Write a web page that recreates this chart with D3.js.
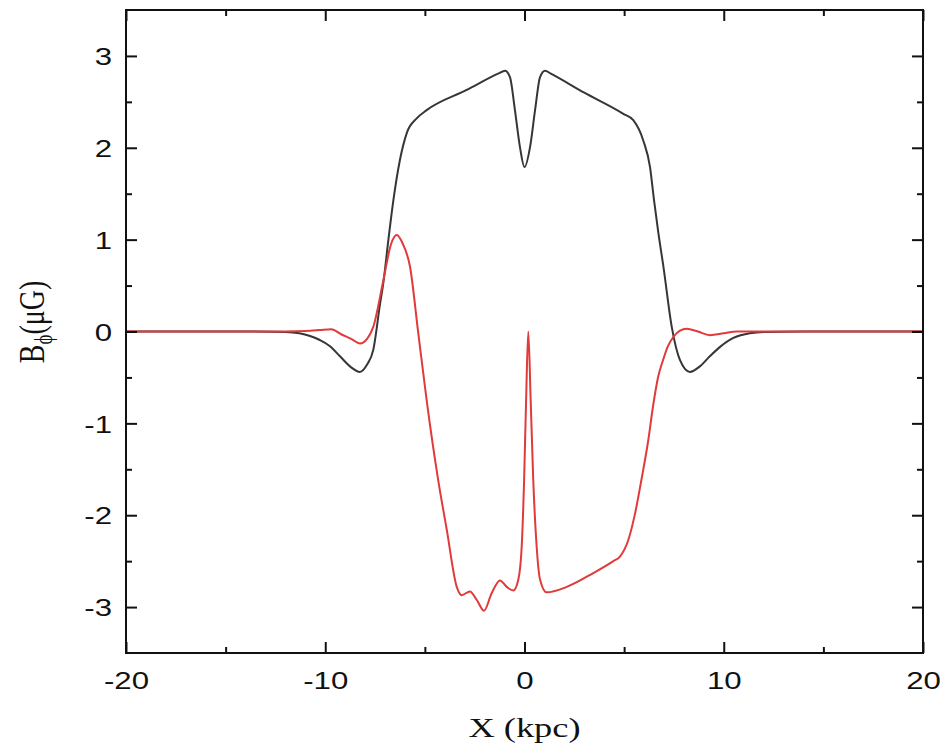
<!DOCTYPE html>
<html>
<head>
<meta charset="utf-8">
<script src="https://d3js.org/d3.v7.min.js"></script>
<style>
html,body{margin:0;padding:0;background:#fff;}
svg{display:block;}
</style>
</head>
<body>
<svg id="chart" width="940" height="747"></svg>
<script>
// ---- data ----
const xTicks = [-20, -10, 0, 10, 20];
const xMinor = [-15, -5, 5, 15];
const yTicks = [-3, -2, -1, 0, 1, 2, 3];
const yMinor = [-2.5, -1.5, -0.5, 0.5, 1.5, 2.5];

const blackX = [-20,-14,-12,-11.3,-10.3,-9.76,-9.26,-8.7,-8.26,-7.9,
  -7.59,-7.25,-7.09,-6.83,-6.58,-6.25,-5.91,-5.41,-4.91,-2.9,
  -1.3,-0.98,-0.73,-0.48,-0.23,0,0.28,0.53,0.78,1.03,
  1.3,3,4.96,5.46,5.96,6.3,6.5,6.72,6.97,7.39,
  7.8,8.3,8.8,9.3,9.8,10.48,11.3,12,14,20];
const blackY = [0,0,-0.005,-0.02,-0.09,-0.16,-0.27,-0.39,-0.44,-0.36,
  -0.2,0.3,0.52,1.0,1.43,1.87,2.16,2.32,2.41,2.63,
  2.81,2.84,2.77,2.41,2.01,1.79,2.01,2.41,2.77,2.84,
  2.81,2.60,2.37,2.30,2.08,1.79,1.43,1.07,0.71,0.05,
  -0.31,-0.44,-0.38,-0.27,-0.17,-0.07,-0.02,-0.005,0,0];

const redX = [-20,-12,-11,-10.3,-9.7,-9.2,-8.7,-8.26,-7.9,-7.59,
  -7.09,-6.7,-6.41,-6.1,-5.75,-5.33,-4.91,-4.33,-3.9,-3.4,
  -3.15,-2.74,-2.4,-2.03,-1.65,-1.23,-0.89,-0.56,-0.31,-0.14,
  -0.02,0.08,0.19,0.31,0.44,0.61,0.78,1.11,2.12,3.45,
  4.46,4.79,5.21,5.55,5.88,6.2,6.46,6.7,6.97,7.2,
  7.47,7.8,8.14,8.7,9.31,10.0,10.65,12,20];
const redY = [0,0,0.005,0.015,0.025,-0.03,-0.08,-0.13,-0.08,0.05,
  0.55,0.95,1.05,0.95,0.71,-0.02,-0.75,-1.62,-2.16,-2.78,
  -2.87,-2.83,-2.92,-3.04,-2.85,-2.71,-2.78,-2.82,-2.7,-2.34,
  -1.62,-0.75,0,-0.75,-1.62,-2.34,-2.7,-2.84,-2.78,-2.63,
  -2.5,-2.45,-2.27,-1.98,-1.6,-1.2,-0.8,-0.5,-0.3,-0.16,
  -0.06,0.01,0.03,0.0,-0.04,-0.02,0,0,0];

// ---- layout ----
const W = 940, H = 747;
const M = {left: 126, top: 10, right: 17, bottom: 94};
const iw = W - M.left - M.right, ih = H - M.top - M.bottom;
const SX = 1.3; // horizontal stretch of glyphs seen in the reference
const fmt = d => String(d);

const svg = d3.select("#chart");
const g = svg.append("g").attr("transform", `translate(${M.left},${M.top})`);

const x = d3.scaleLinear().domain([-20, 20]).range([0, iw]);
const y = d3.scaleLinear().domain([-3.5, 3.5]).range([ih, 0]);

const line = d3.line()
  .x(d => x(d[0])).y(d => y(d[1]))
  .curve(d3.curveMonotoneX);

const blackData = blackX.map((v, i) => [v, blackY[i]]);
const redData = redX.map((v, i) => [v, redY[i]]);

g.append("path").datum(blackData)
  .attr("d", line).attr("fill", "none")
  .attr("stroke", "#363636").attr("stroke-width", 2);
g.append("path").datum(redData)
  .attr("d", line).attr("fill", "none")
  .attr("stroke", "#e03a3a").attr("stroke-width", 2);

// ---- axes ----
function styleAxis(sel) {
  sel.select(".domain").remove();
  sel.selectAll(".tick line").attr("stroke", "#111").attr("stroke-width", 2);
}
const gb = g.append("g").attr("transform", `translate(0,${ih})`)
  .call(d3.axisBottom(x).tickValues(xTicks).tickSize(-11).tickPadding(0).tickFormat(fmt));
styleAxis(gb);
gb.selectAll(".tick text")
  .attr("y", 0).attr("dy", 0)
  .attr("transform", "translate(0,36) scale(" + SX + ",1)")
  .attr("font-family", "'Liberation Sans', Arial, sans-serif")
  .attr("font-size", 24).attr("fill", "#111");
g.append("g").attr("transform", `translate(0,${ih})`)
  .call(d3.axisBottom(x).tickValues(xMinor).tickSize(-6).tickFormat(""))
  .call(styleAxis);
g.append("g").call(d3.axisTop(x).tickValues(xTicks).tickSize(-11).tickFormat("")).call(styleAxis);
g.append("g").call(d3.axisTop(x).tickValues(xMinor).tickSize(-6).tickFormat("")).call(styleAxis);
const gl = g.append("g")
  .call(d3.axisLeft(y).tickValues(yTicks).tickSize(-11).tickPadding(0).tickFormat(fmt));
styleAxis(gl);
gl.selectAll(".tick text")
  .attr("x", 0).attr("dy", "0.36em")
  .attr("transform", "translate(-14,0) scale(" + SX + ",1)")
  .attr("text-anchor", "end")
  .attr("font-family", "'Liberation Sans', Arial, sans-serif")
  .attr("font-size", 24).attr("fill", "#111");
g.append("g").call(d3.axisLeft(y).tickValues(yMinor).tickSize(-6).tickFormat("")).call(styleAxis);
g.append("g").attr("transform", `translate(${iw},0)`)
  .call(d3.axisRight(y).tickValues(yTicks).tickSize(-11).tickFormat("")).call(styleAxis);
g.append("g").attr("transform", `translate(${iw},0)`)
  .call(d3.axisRight(y).tickValues(yMinor).tickSize(-6).tickFormat("")).call(styleAxis);

g.append("rect").attr("x", 0).attr("y", 0).attr("width", iw).attr("height", ih)
  .attr("fill", "none").attr("stroke", "#111").attr("stroke-width", 2);

// axis titles
svg.append("text")
  .attr("transform", `translate(${M.left + iw / 2},737) scale(${SX},1)`)
  .attr("text-anchor", "middle")
  .attr("font-family", "'Liberation Serif', 'Times New Roman', serif")
  .attr("font-size", 28).attr("fill", "#111")
  .text("X (kpc)");

const yl = svg.append("text")
  .attr("transform", `translate(44,322) rotate(-90) scale(1,1.3)`)
  .attr("text-anchor", "middle")
  .attr("font-family", "'Liberation Serif', 'Times New Roman', serif")
  .attr("font-size", 28).attr("fill", "#111");
yl.append("tspan").text("B");
yl.append("tspan").attr("font-size", 19).attr("dy", 6).text("ϕ");
yl.append("tspan").attr("dy", -6).text("(μG)");
</script>
</body>
</html>
